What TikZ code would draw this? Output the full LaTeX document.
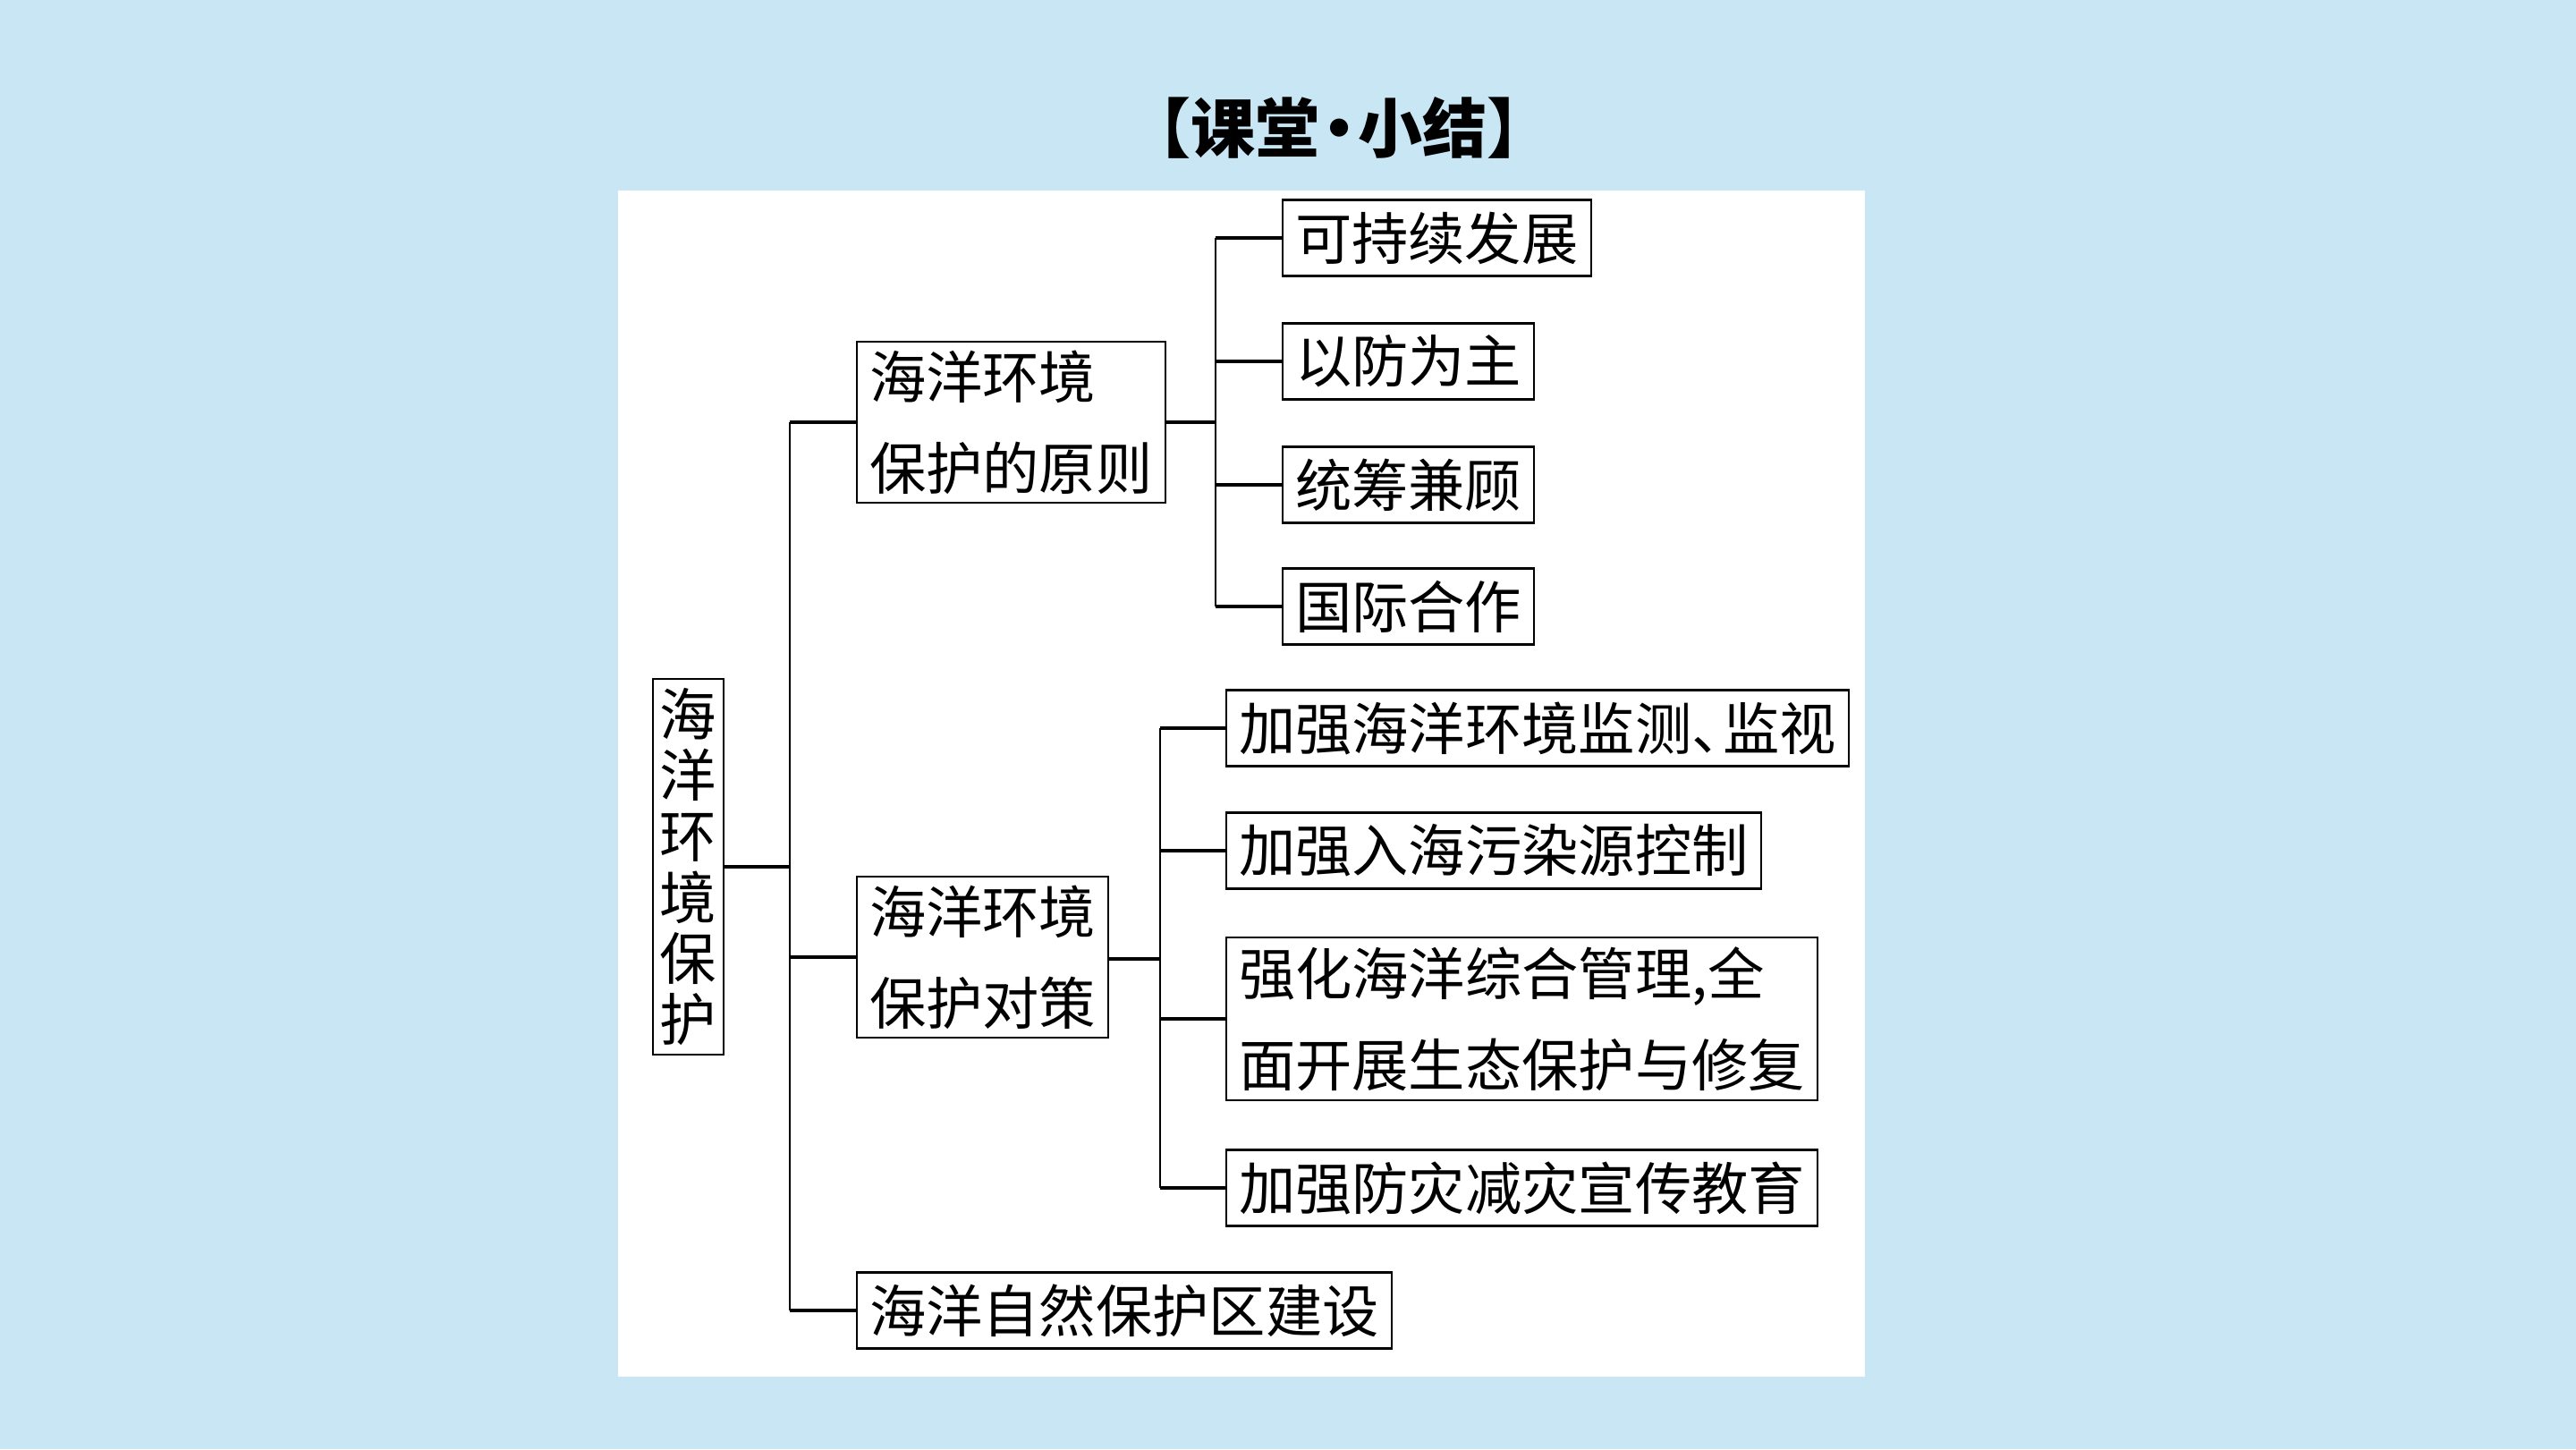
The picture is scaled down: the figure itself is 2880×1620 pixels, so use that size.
\documentclass[tikz,border=0pt]{standalone}
\usepackage{fontspec}
\newfontfamily\cjk{Noto Sans CJK SC}
\newcommand\boxfont{\cjk\fontsize{18pt}{29pt}\selectfont}
\definecolor{sky}{RGB}{200,230,243}

\begin{document}
\begin{tikzpicture}[x=0.01cm,y=-0.01cm,
    box/.style={draw,line width=0.6pt,font=\boxfont,inner xsep=0.14cm,inner ysep=0.1cm,
                minimum height=0.85cm,anchor=west,align=left},
    stub/.style={line width=1.1pt},
    trunk/.style={line width=0.5pt}]
    \useasboundingbox (0,0) rectangle (2880,1620);
    \fill[sky] (0,0) rectangle (2880,1620);
    \fill[white] (691,213) rectangle (2085,1539);

    \node[font=\cjk\bfseries\fontsize{20.5pt}{24pt}\selectfont] (title) at (1497,143)
        {【课堂\kern-.2em·\kern-.2em小结】};

    \node[box,anchor=center,align=center,inner xsep=0.08cm,
          font=\cjk\fontsize{18pt}{19.4pt}\selectfont] (1) at (769.5,969) {海\\洋\\环\\境\\保\\护};
    \node[box] (2) at (957,472) {海洋环境\\保护的原则};
    \node[box] (3) at (957,1070) {海洋环境\\保护对策};
    \node[box] (4) at (957,1465) {海洋自然保护区建设};

    \node[box] (5) at (1433,266) {可持续发展};
    \node[box] (6) at (1433,404) {以防为主};
    \node[box] (7) at (1433,542) {统筹兼顾};
    \node[box] (8) at (1433,678) {国际合作};

    \node[box] (9) at (1370,814) {加强海洋环境监测、\kern-.45em监视};
    \node[box] (10) at (1370,951) {加强入海污染源控制};
    \node[box] (11) at (1370,1139) {强化海洋综合管理,全\\面开展生态保护与修复};
    \node[box] (12) at (1370,1328) {加强防灾减灾宣传教育};

    \coordinate (a) at (883,969);
    \coordinate (b) at (1359,472);
    \coordinate (c) at (1297,1072);

    % root to its three branches
    \draw[stub] (1) -- (a);
    \draw[trunk] (2.west -| a) -- (4.west -| a);
    \path[stub]
        (2.west -| a) edge (2)
        (3.west -| a) edge (3)
        (4.west -| a) edge (4);

    % principles
    \draw[stub] (2) -- (b);
    \draw[trunk] (5.west -| b) -- (8.west -| b);
    \path[stub]
        (5.west -| b) edge (5)
        (6.west -| b) edge (6)
        (7.west -| b) edge (7)
        (8.west -| b) edge (8);

    % measures
    \draw[stub] (3.east |- c) -- (c);
    \draw[trunk] (9.west -| c) -- (12.west -| c);
    \path[stub]
        (9.west -| c) edge (9)
        (10.west -| c) edge (10)
        (11.west -| c) edge (11)
        (12.west -| c) edge (12);
\end{tikzpicture}
\end{document}
